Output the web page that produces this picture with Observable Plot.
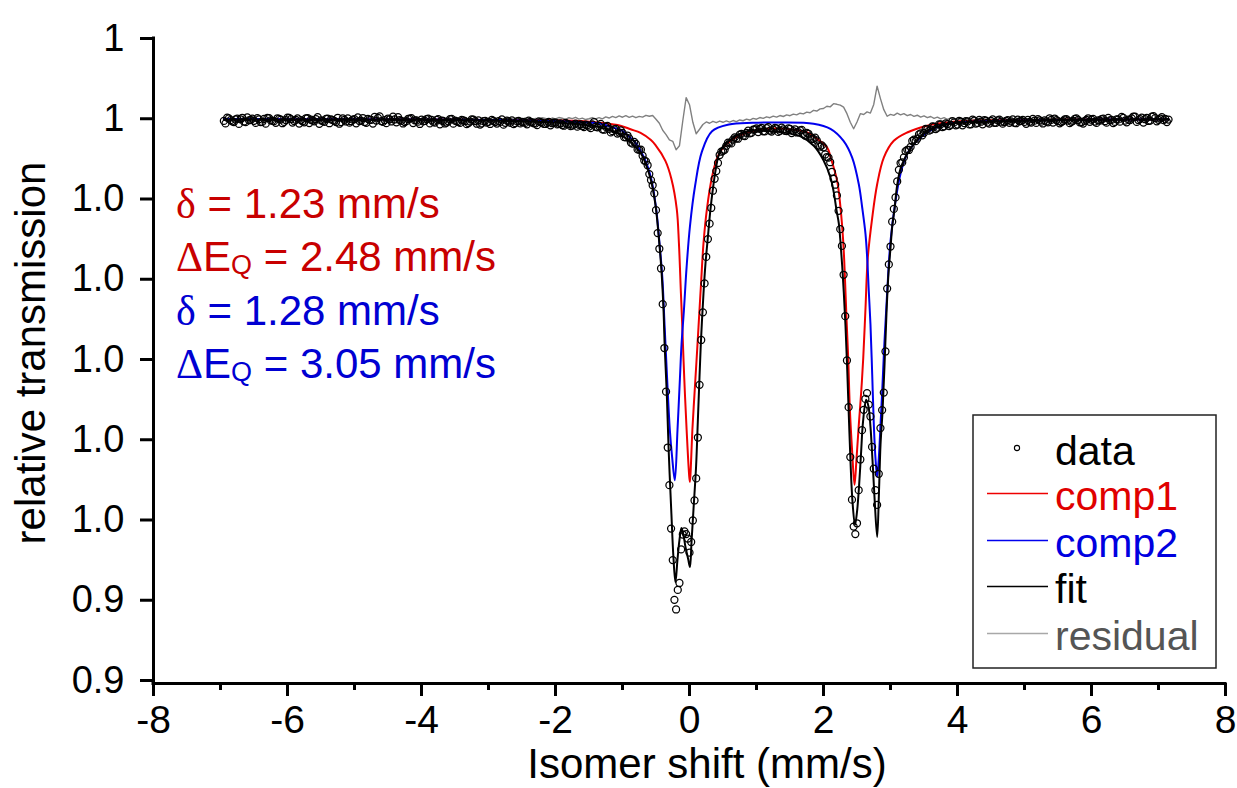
<!DOCTYPE html>
<html><head><meta charset="utf-8">
<script src="https://cdn.jsdelivr.net/npm/d3@7"></script>
<script src="https://cdn.jsdelivr.net/npm/@observablehq/plot@0.6"></script>
<style>
html,body{margin:0;padding:0;background:#fff;overflow:hidden}
#chart{width:1237px;height:788px}
</style></head><body><div id="chart"></div>
<script>
// ---- measured spectrum, even channels (velocity in mm/s, relative transmission) ----
const velocityEven = [
-6.95,-6.9,-6.85,-6.8,-6.75,-6.7,-6.65,-6.6,-6.55,-6.5,
-6.45,-6.4,-6.35,-6.3,-6.25,-6.2,-6.15,-6.1,-6.05,-6,
-5.95,-5.9,-5.85,-5.8,-5.75,-5.7,-5.65,-5.6,-5.55,-5.5,
-5.45,-5.4,-5.35,-5.3,-5.25,-5.2,-5.15,-5.1,-5.05,-5,
-4.95,-4.9,-4.85,-4.8,-4.75,-4.7,-4.65,-4.6,-4.55,-4.5,
-4.45,-4.4,-4.35,-4.3,-4.25,-4.2,-4.15,-4.1,-4.05,-4,
-3.95,-3.9,-3.85,-3.8,-3.75,-3.7,-3.65,-3.6,-3.55,-3.5,
-3.45,-3.4,-3.35,-3.3,-3.25,-3.2,-3.15,-3.1,-3.05,-3,
-2.95,-2.9,-2.85,-2.8,-2.75,-2.7,-2.65,-2.6,-2.55,-2.5,
-2.45,-2.4,-2.35,-2.3,-2.25,-2.2,-2.15,-2.1,-2.05,-2,
-1.95,-1.9,-1.85,-1.8,-1.75,-1.7,-1.65,-1.6,-1.55,
-1.5,-1.45,-1.4,-1.35,-1.3,-1.25,-1.2,-1.15,-1.1,-1.05,
-1,-0.95,-0.9,-0.85,-0.8,-0.75,-0.7,-0.65,-0.6,-0.55,
-0.5,-0.45,-0.4,-0.35,-0.3,-0.25,-0.2,-0.15,-0.1,-0.05,
0,0.05,0.1,0.15,0.2,0.25,0.3,0.35,0.4,0.45,
0.5,0.55,0.6,0.65,0.7,0.75,0.8,0.85,0.9,0.95,
1,1.05,1.1,1.15,1.2,1.25,1.3,1.35,1.4,1.45,
1.5,1.55,1.6,1.65,1.7,1.75,1.8,1.85,1.9,1.95,
2,2.05,2.1,2.15,2.2,2.25,2.3,2.35,2.4,2.45,
2.5,2.55,2.6,2.65,2.7,2.75,2.8,2.85,2.9,2.95,
3,3.05,3.1,3.15,3.2,3.25,3.3,3.35,3.4,3.45,
3.5,3.55,3.6,3.65,3.7,3.75,3.8,3.85,3.9,3.95,
4,4.05,4.1,4.15,4.2,4.25,4.3,4.35,4.4,4.45,
4.5,4.55,4.6,4.65,
4.7,4.75,4.8,4.85,4.9,4.95,5,5.05,5.1,5.15,
5.2,5.25,5.3,5.35,5.4,5.45,5.5,5.55,5.6,5.65,
5.7,5.75,5.8,5.85,5.9,5.95,6,6.05,6.1,6.15,
6.2,6.25,6.3,6.35,6.4,6.45,6.5,6.55,6.6,6.65,
6.7,6.75,6.8,6.85,6.9,6.95,7,7.05,7.1,7.15];
const transmissionEven = [
0.99973,1.00013,0.99982,0.99959,1.00002,0.99993,0.99966,1.00018,0.99985,0.99975,
1.00008,0.99957,0.99998,1.00011,0.99979,0.99970,1.00006,0.99990,0.99961,1.00015,
0.99996,0.99972,1.00004,0.99983,0.99955,1.00009,0.99988,0.99968,1.00020,0.99979,
0.99962,1.00001,0.99992,0.99974,1.00012,0.99958,0.99986,1.00005,0.99969,0.99994,
1.00016,0.99977,0.99960,0.99999,0.99987,1.00024,1.00010,0.99971,0.99982,1.00003,
0.99966,0.99991,1.00021,0.99975,0.99958,0.99997,1.00007,0.99980,0.99964,0.99989,
0.99972,1.00002,0.99985,0.99953,0.99994,0.99978,0.99941,0.99968,0.99999,0.99976,
0.99960,0.99987,0.99971,0.99947,0.99993,0.99969,0.99980,0.99942,0.99974,0.99962,
0.99985,0.99958,0.99970,0.99991,0.99950,0.99966,0.99979,0.99945,0.99972,0.99960,
0.99948,0.99977,0.99955,0.99940,0.99968,0.99951,0.99935,0.99962,0.99944,0.99953,
0.99936,0.99921,0.99948,0.99930,0.99915,0.99939,0.99925,0.99910,0.99928,
0.99902,0.99930,0.99900,0.99910,0.99869,0.99898,0.99874,0.99845,0.99874,0.99828,
0.99823,0.99769,0.99756,0.99689,0.99686,0.99613,0.99539,0.99468,0.99311,0.99171,
0.98861,0.98380,0.97689,0.96599,0.95434,0.94500,0.93885,0.94215,0.94819,0.94825,
0.94593,0.94994,0.95518,0.96684,0.97588,0.98278,0.98693,0.99103,0.99348,0.99548,
0.99600,0.99663,0.99700,0.99739,0.99755,0.99803,0.99789,0.99824,0.99818,0.99865,
0.99879,0.99873,0.99844,0.99883,0.99853,0.99866,0.99881,0.99849,0.99869,0.99846,
0.99874,0.99845,0.99829,0.99856,0.99813,0.99824,0.99778,0.99750,0.99730,0.99653,
0.99644,0.99523,0.99458,0.99251,0.99045,0.98624,0.98056,0.96988,0.95784,0.94918,
0.94959,0.95754,0.96373,0.96581,0.96290,0.95639,0.95188,0.96145,0.96588,0.97884,
0.98408,0.98876,0.99219,0.99448,0.99518,0.99613,0.99649,0.99739,0.99751,0.99818,
0.99824,0.99871,0.99863,0.99902,0.99888,0.99929,0.99906,0.99934,0.99924,0.99954,
0.99928,0.99963,0.99945,0.99966,0.99930,0.99976,0.99948,0.99963,0.99983,0.99953,
0.99973,0.99949,0.99981,0.99963,
0.99958,0.99983,0.99967,0.99949,0.99990,0.99972,0.99961,0.99985,0.99953,0.99976,
0.99996,0.99964,0.99979,0.99955,0.99987,1.00003,0.99970,0.99959,0.99991,0.99977,
0.99962,0.99999,0.99984,0.99956,0.99973,1.00006,0.99988,0.99965,0.99980,0.99994,
0.99969,1.00010,0.99985,0.99961,0.99992,1.00022,0.99976,0.99989,1.00004,1.00025,
0.99983,1.00015,0.99994,0.99972,1.00027,1.00008,0.99986,1.00019,0.99998,0.99990];

// ---- measured spectrum, odd channels ----
const velocityOdd = [
-6.925,-6.875,-6.825,-6.775,-6.725,-6.675,-6.625,-6.575,-6.525,-6.475,
-6.425,-6.375,-6.325,-6.275,-6.225,-6.175,-6.125,-6.075,-6.025,-5.975,
-5.925,-5.875,-5.825,-5.775,-5.725,-5.675,-5.625,-5.575,-5.525,-5.475,
-5.425,-5.375,-5.325,-5.275,-5.225,-5.175,-5.125,-5.075,-5.025,-4.975,
-4.925,-4.875,-4.825,-4.775,-4.725,-4.675,-4.625,-4.575,-4.525,-4.475,
-4.425,-4.375,-4.325,-4.275,-4.225,-4.175,-4.125,-4.075,-4.025,-3.975,
-3.925,-3.875,-3.825,-3.775,-3.725,-3.675,-3.625,-3.575,-3.525,-3.475,
-3.425,-3.375,-3.325,-3.275,-3.225,-3.175,-3.125,-3.075,-3.025,-2.975,
-2.925,-2.875,-2.825,-2.775,-2.725,-2.675,-2.625,-2.575,-2.525,-2.475,
-2.425,-2.375,-2.325,-2.275,-2.225,-2.175,-2.125,-2.075,-2.025,-1.975,
-1.925,-1.875,-1.825,-1.775,-1.725,-1.675,-1.625,-1.575,-1.525,
-1.475,-1.425,-1.375,-1.325,-1.275,-1.225,-1.175,-1.125,-1.075,-1.025,
-0.975,-0.925,-0.875,-0.825,-0.775,-0.725,-0.675,-0.625,-0.575,-0.525,
-0.475,-0.425,-0.375,-0.325,-0.275,-0.225,-0.175,-0.125,-0.075,-0.025,
0.025,0.075,0.125,0.175,0.225,0.275,0.325,0.375,0.425,0.475,
0.525,0.575,0.625,0.675,0.725,0.775,0.825,0.875,0.925,0.975,
1.025,1.075,1.125,1.175,1.225,1.275,1.325,1.375,1.425,1.475,
1.525,1.575,1.625,1.675,1.725,1.775,1.825,1.875,1.925,1.975,
2.025,2.075,2.125,2.175,2.225,2.275,2.325,2.375,2.425,2.475,
2.525,2.575,2.625,2.675,2.725,2.775,2.825,2.875,2.925,2.975,
3.025,3.075,3.125,3.175,3.225,3.275,3.325,3.375,3.425,3.475,
3.525,3.575,3.625,3.675,3.725,3.775,3.825,3.875,3.925,3.975,
4.025,4.075,4.125,4.175,4.225,4.275,4.325,4.375,4.425,4.475,
4.525,4.575,4.625,
4.675,4.725,4.775,4.825,4.875,4.925,4.975,5.025,5.075,5.125,
5.175,5.225,5.275,5.325,5.375,5.425,5.475,5.525,5.575,5.625,
5.675,5.725,5.775,5.825,5.875,5.925,5.975,6.025,6.075,6.125,
6.175,6.225,6.275,6.325,6.375,6.425,6.475,6.525,6.575,6.625,
6.675,6.725,6.775,6.825,6.875,6.925,6.975,7.025,7.075,7.125];
const transmissionOdd = [
0.99942,1.00005,0.99968,0.99991,0.99936,1.00012,0.99957,0.99980,1.00001,0.99948,
0.99993,0.99961,0.99939,1.00008,0.99975,0.99950,0.99997,0.99944,0.99984,1.00010,
0.99953,0.99987,0.99940,0.99969,1.00006,0.99946,0.99978,0.99995,0.99937,0.99972,
0.99999,0.99944,0.99982,0.99958,0.99938,1.00004,0.99966,0.99951,0.99990,0.99943,
0.99971,1.00009,0.99949,0.99986,0.99940,0.99977,1.00030,0.99962,0.99945,0.99993,
1.00026,0.99955,0.99984,0.99941,0.99970,1.00002,0.99947,0.99979,0.99935,0.99967,
0.99996,0.99942,0.99963,0.99985,0.99930,0.99974,0.99952,0.99994,0.99939,0.99968,
0.99948,0.99981,0.99932,0.99965,0.99988,0.99938,0.99927,0.99970,0.99953,0.99935,
0.99972,0.99940,0.99961,0.99926,0.99978,0.99949,0.99933,0.99967,0.99942,0.99958,
0.99931,0.99962,0.99944,0.99920,0.99957,0.99936,0.99948,0.99918,0.99952,0.99929,
0.99941,0.99913,0.99935,0.99908,0.99926,0.99901,0.99930,0.99897,0.99919,
0.99883,0.99959,0.99893,0.99936,0.99863,0.99910,0.99830,0.99869,0.99816,0.99856,
0.99770,0.99791,0.99703,0.99711,0.99618,0.99615,0.99480,0.99421,0.99236,0.99070,
0.98575,0.98134,0.97143,0.95903,0.94893,0.94005,0.94129,0.94633,0.94859,0.94769,
0.94726,0.95243,0.96028,0.97243,0.97948,0.98501,0.98888,0.99251,0.99449,0.99589,
0.99614,0.99701,0.99693,0.99768,0.99751,0.99811,0.99785,0.99851,0.99825,0.99869,
0.99834,0.99886,0.99844,0.99895,0.99841,0.99886,0.99836,0.99889,0.99848,0.99881,
0.99822,0.99869,0.99834,0.99861,0.99790,0.99813,0.99748,0.99765,0.99669,0.99668,
0.99555,0.99516,0.99339,0.99178,0.98853,0.98415,0.97540,0.96406,0.95253,0.94825,
0.95372,0.96119,0.96509,0.96438,0.95911,0.95371,0.95575,0.96370,0.97100,0.98185,
0.98718,0.99020,0.99363,0.99456,0.99596,0.99611,0.99723,0.99721,0.99806,0.99793,
0.99873,0.99851,0.99905,0.99871,0.99930,0.99895,0.99943,0.99909,0.99970,0.99919,
0.99974,0.99919,0.99971,0.99929,0.99988,0.99940,0.99986,0.99931,0.99976,0.99940,
0.99991,0.99949,0.99988,
0.99939,0.99975,0.99950,0.99992,0.99944,0.99968,0.99986,0.99937,0.99962,0.99998,
0.99948,0.99979,0.99941,0.99966,1.00006,0.99952,0.99983,0.99943,0.99971,0.99995,
0.99945,0.99974,1.00004,0.99956,0.99940,0.99987,0.99962,0.99999,0.99948,0.99976,
1.00002,0.99951,0.99980,0.99946,0.99993,0.99964,1.00010,0.99955,0.99984,1.00028,
0.99961,0.99996,0.99953,1.00012,0.99977,1.00032,0.99968,1.00003,0.99982,0.99959];

// ---- component 1 (red) ----
const comp1V = [-6.95,-5,-4,-3,-2,-1.63,-1.33,-1.03,-0.88,-0.73,-0.58,-0.51,-0.36,-0.27,-0.19,-0.158,-0.128,-0.107,-0.078,-0.043,-0.002,0.007,0.022,0.043,0.073,0.104,0.134,0.175,0.209,0.26,0.336,0.433,0.612,0.96,1.309,1.757,1.851,2.055,2.104,2.204,2.254,2.294,2.318,2.343,2.369,2.393,2.428,2.463,2.493,2.527,2.563,2.593,2.627,2.661,2.727,2.801,2.9,3.049,3.249,3.548,3.846,4.045,4.642,6.134,7.15];
const comp1T = [0.99996,0.99994,0.99990,0.99984,0.99980,0.99973,0.99950,0.99913,0.99869,0.99825,0.99738,0.99675,0.99475,0.99250,0.98875,0.98450,0.97825,0.97400,0.96763,0.96125,0.95525,0.95475,0.95700,0.96125,0.96550,0.96975,0.97400,0.97988,0.98450,0.98875,0.99275,0.99550,0.99725,0.99850,0.99879,0.99829,0.99781,0.99641,0.99525,0.99225,0.98891,0.98475,0.98063,0.97516,0.97016,0.96391,0.95850,0.95438,0.95766,0.96188,0.96600,0.97016,0.97641,0.98266,0.98766,0.99184,0.99516,0.99725,0.99829,0.99913,0.99954,0.99969,0.99981,0.99990,0.99994];

// ---- component 2 (blue) ----
const comp2V = [-6.95,-5,-4,-3,-2,-1.627,-1.328,-1.134,-1.03,-0.881,-0.821,-0.672,-0.572,-0.497,-0.448,-0.406,-0.37,-0.334,-0.294,-0.26,-0.219,-0.179,-0.143,-0.119,-0.084,-0.043,0.007,0.084,0.185,0.336,0.588,0.94,1.36,1.851,2.104,2.299,2.428,2.527,2.578,2.627,2.652,2.676,2.701,2.727,2.751,2.776,2.801,2.825,2.851,2.876,2.91,2.951,3,3.075,3.149,3.249,3.448,3.746,4.045,4.642,6.134,7.15];
const comp2T = [0.99996,0.99994,0.99990,0.99985,0.99973,0.99956,0.99938,0.99888,0.99863,0.99763,0.99716,0.99505,0.99253,0.98875,0.98450,0.98028,0.97394,0.96763,0.96128,0.95789,0.95494,0.96125,0.96763,0.97188,0.97605,0.98154,0.98663,0.99168,0.99590,0.99844,0.99928,0.99950,0.99954,0.99938,0.99875,0.99725,0.99516,0.99184,0.98891,0.98563,0.98266,0.97850,0.97438,0.96813,0.96188,0.95766,0.95538,0.95766,0.96188,0.96600,0.97225,0.97850,0.98475,0.98975,0.99313,0.99563,0.99766,0.99913,0.99954,0.99975,0.99990,0.99994];

// ---- total fit (black) ----
const fitV = [-6.95,-5,-4,-3,-2.5,-2,-1.64,-1.34,-1.13,-1.03,-0.88,-0.82,-0.73,-0.67,-0.58,-0.51,-0.46,-0.42,-0.39,-0.37,-0.34,-0.31,-0.27,-0.24,-0.21,-0.18,-0.15,-0.12,-0.09,-0.06,-0.02,0.007,0.03,0.06,0.098,0.124,0.149,0.175,0.209,0.239,0.269,0.31,0.351,0.388,0.433,0.507,0.612,0.716,0.955,1.06,1.313,1.458,1.657,1.855,2,2.104,2.154,2.194,2.228,2.254,2.279,2.303,2.328,2.354,2.378,2.403,2.433,2.47,2.5,2.53,2.56,2.59,2.637,2.672,2.701,2.731,2.761,2.801,2.828,2.851,2.881,2.91,2.94,2.97,3,3.025,3.06,3.1,3.149,3.224,3.348,3.548,3.846,4.045,4.642,5.388,6.134,7.15];
const fitT = [0.99988,0.99988,0.99986,0.99978,0.99969,0.99953,0.99931,0.99894,0.99838,0.99800,0.99713,0.99663,0.99575,0.99475,0.99250,0.98938,0.98538,0.98125,0.97663,0.97163,0.96600,0.95850,0.95075,0.94538,0.94225,0.94500,0.94750,0.94900,0.94813,0.94663,0.94513,0.94413,0.94725,0.95138,0.95663,0.96225,0.96775,0.97300,0.97825,0.98200,0.98475,0.98850,0.99138,0.99350,0.99538,0.99663,0.99738,0.99800,0.99856,0.99851,0.99839,0.99821,0.99781,0.99663,0.99483,0.99268,0.99079,0.98861,0.98698,0.98458,0.98168,0.97834,0.97423,0.96875,0.96295,0.95725,0.95225,0.94938,0.95100,0.95413,0.95825,0.96225,0.96500,0.96413,0.96163,0.95750,0.95288,0.94788,0.95350,0.95938,0.96350,0.96913,0.97575,0.98075,0.98388,0.98650,0.98875,0.99175,0.99375,0.99525,0.99688,0.99850,0.99931,0.99950,0.99969,0.99981,0.99988,0.99990];

// ---- residual (grey) ----
const residualV = [
-6.95,-6.7,-6.45,-6.2,-5.95,-5.7,-5.45,-5.2,-4.95,-4.7,-4.45,-4.2,-3.95,-3.7,-3.45,-3.2,-2.95,-2.7,
-2.5,-2.45,-2.4,-2.35,-2.3,-2.25,-2.2,-2.15,-2.1,-2.05,
-2,-1.95,-1.9,-1.85,-1.8,-1.75,-1.7,-1.65,-1.6,-1.55,
-1.5,-1.45,-1.4,-1.35,-1.3,-1.25,-1.2,-1.15,-1.1,-1.05,
-1,-0.95,-0.9,-0.85,-0.8,-0.75,-0.7,-0.65,-0.6,-0.55,
-0.5,-0.45,-0.4,-0.35,-0.3,-0.25,-0.2,-0.15,-0.1,-0.05,
0,0.05,0.1,0.15,0.2,0.25,0.3,0.35,0.4,0.45,
0.5,0.55,0.6,0.65,0.7,0.75,0.8,0.85,0.9,0.95,
1,1.05,1.1,1.15,1.2,1.25,1.3,1.35,1.4,1.45,
1.5,1.55,1.6,1.65,1.7,1.75,1.8,1.85,1.9,1.95,
2,2.05,2.1,2.15,2.2,2.25,2.3,2.35,2.4,2.45,
2.5,2.55,2.6,2.65,2.7,2.75,2.8,2.85,2.9,2.95,
3,3.05,3.1,3.15,3.2,3.25,3.3,3.35,3.4,3.45,
3.5,3.55,3.6,3.65,3.7,3.75,3.8,3.85,3.9,3.95,
4,4.05,4.1,4.15,4.2,4.25,4.3,4.35,4.4,4.45,
4.5,
4.75,5,5.25,5.5,5.75,6,6.25,6.5,6.75,7,7.15];
const residualT = [
0.99993,1.00001,0.99986,0.99998,1.00005,0.99990,0.99984,1.00000,1.00006,0.99989,0.99996,1.00004,0.99988,0.99999,1.00008,0.99991,0.99985,1.00001,
0.99994,1.00010,1.00000,0.99988,1.00005,0.99995,1.00014,1.00003,0.99989,1.00009,
0.99999,1.00015,1.00006,0.99993,1.00013,1.00001,1.00018,0.99996,1.00008,0.99990,
1.00000,1.00015,0.99998,1.00013,0.99999,1.00023,1.00009,1.00030,1.00015,1.00035,
1.00019,1.00038,1.00018,1.00033,1.00013,1.00030,1.00020,1.00043,1.00031,1.00040,
0.99994,0.99944,0.99856,0.99803,0.99738,0.99719,0.99613,0.99663,0.99975,1.00263,
1.00175,0.99956,0.99813,0.99869,0.99928,0.99960,0.99944,0.99968,0.99951,0.99971,
0.99956,0.99973,0.99958,0.99978,0.99964,0.99985,0.99975,0.99995,0.99984,1.00005,
0.99994,1.00015,1.00005,1.00024,1.00013,1.00033,1.00020,1.00040,1.00028,1.00048,
1.00038,1.00058,1.00048,1.00069,1.00060,1.00083,1.00075,1.00105,1.00096,1.00123,
1.00128,1.00156,1.00148,1.00188,1.00180,1.00169,1.00144,1.00063,0.99956,0.99875,
0.99959,1.00063,1.00053,1.00085,1.00071,1.00178,1.00406,1.00251,1.00113,1.00031,
1.00055,1.00043,1.00070,1.00048,1.00063,1.00038,1.00053,1.00030,1.00044,1.00020,
1.00035,1.00013,1.00028,1.00005,1.00020,0.99998,1.00014,0.99993,1.00009,0.99990,
1.00006,0.99989,1.00005,0.99988,1.00003,0.99989,1.00004,0.99985,1.00000,0.99986,
0.99998,
0.99991,1.00001,0.99988,0.99996,1.00005,0.99990,0.99999,0.99985,1.00003,0.99993,0.99998];

// ---- axes ----
const xMajorTicks = [-8,-6,-4,-2,0,2,4,6,8];
const xMinorTicks = [-7,-5,-3,-1,1,3,5,7];
const yTicks = [1.01,1.00,0.99,0.98,0.97,0.96,0.95,0.94,0.93];
const yTickLabels = ["1","1","1.0","1.0","1.0","1.0","1.0","0.9","0.9"];
const xTitle = "Isomer shift (mm/s)";
const yTitle = "relative transmission";

// ---- fit parameters text ----
const paramLines = [
  {greek:"δ", sym:"",  sub:"",  value:" = 1.23 mm/s", color:"#c80000"},
  {greek:"Δ", sym:"E", sub:"Q", value:" = 2.48 mm/s", color:"#c80000"},
  {greek:"δ", sym:"",  sub:"",  value:" = 1.28 mm/s", color:"#0000d2"},
  {greek:"Δ", sym:"E", sub:"Q", value:" = 3.05 mm/s", color:"#0000d2"}
];
const legendItems = [
  {label:"data",     kind:"dot",  color:"#000000", text:"#000000"},
  {label:"comp1",    kind:"line", color:"#ee0000", text:"#e00000"},
  {label:"comp2",    kind:"line", color:"#0000ee", text:"#0000e0"},
  {label:"fit",      kind:"line", color:"#000000", text:"#000000"},
  {label:"residual", kind:"line", color:"#a8a8a8", text:"#555555"}
];

const rows = (xs, ys) => xs.map((x, i) => ({x, y: ys[i]}));
const dataRows = rows(velocityEven, transmissionEven).concat(rows(velocityOdd, transmissionOdd));
const comp1Rows = rows(comp1V, comp1T);
const comp2Rows = rows(comp2V, comp2T);
const fitRows = rows(fitV, fitT);
const residualRows = rows(residualV, residualT);

const yLow = 0.929626, yHigh = 1.01;
const FONT = "'Liberation Sans', Arial, Helvetica, sans-serif";

const chart = Plot.plot({
  width: 1237, height: 788,
  marginLeft: 153, marginRight: 12, marginTop: 38, marginBottom: 105,
  style: {fontFamily: FONT, background: "#fff", color: "#000"},
  x: {domain: [-8, 8], label: null},
  y: {domain: [yLow, yHigh], label: null},
  marks: [
    Plot.line(residualRows, {x: "x", y: "y", stroke: "#808080", strokeWidth: 1.4}),
    Plot.line(comp1Rows, {x: "x", y: "y", stroke: "#ee0000", strokeWidth: 2, curve: "catmull-rom"}),
    Plot.line(comp2Rows, {x: "x", y: "y", stroke: "#0000ee", strokeWidth: 2, curve: "catmull-rom"}),
    Plot.dot(dataRows, {x: "x", y: "y", r: 3.5, stroke: "#000", strokeWidth: 1.25, fill: "none"}),
    Plot.line(fitRows, {x: "x", y: "y", stroke: "#000", strokeWidth: 2, curve: "catmull-rom"}),
    Plot.ruleX([-8], {y1: yLow, y2: yHigh, stroke: "#000", strokeWidth: 3, strokeLinecap: "square"}),
    Plot.ruleY([yLow], {x1: -8, x2: 8, stroke: "#000", strokeWidth: 3, strokeLinecap: "square"}),
    Plot.axisX(xMajorTicks, {tickSize: 13, tickPadding: 9, fontSize: 39, strokeWidth: 3, tickFormat: d => String(d), label: null}),
    Plot.axisX(xMinorTicks, {tickSize: 7, strokeWidth: 3, tickFormat: () => "", label: null}),
    Plot.axisY(yTicks, {tickSize: 13, tickPadding: 16, fontSize: 38, strokeWidth: 3, label: null,
      tickFormat: d => yTickLabels[yTicks.findIndex(t => Math.abs(t - d) < 1e-6)]})
  ]
});
document.getElementById("chart").appendChild(chart);

const svg = d3.select(chart);
// axis titles
svg.append("text").attr("x", 707).attr("y", 778).attr("text-anchor", "middle")
  .attr("font-family", FONT).attr("font-size", 42).attr("fill", "#000").text(xTitle);
svg.append("text").attr("transform", "translate(45,353) rotate(-90)").attr("text-anchor", "middle")
  .attr("font-family", FONT).attr("font-size", 42).attr("fill", "#000").text(yTitle);

// parameter annotations
const ann = svg.append("g").attr("font-family", FONT).attr("font-size", 42).attr("text-anchor", "start");
paramLines.forEach((p, i) => {
  const t = ann.append("text").attr("x", 176).attr("y", 218 + i * 53.3).attr("fill", p.color).attr("text-anchor", "start");
  t.append("tspan").attr("font-family", "'Liberation Serif', 'Times New Roman', serif").text(p.greek);
  if (p.sym) t.append("tspan").text(p.sym);
  if (p.sub) {
    t.append("tspan").attr("font-size", 27).attr("dy", 3).text(p.sub);
    t.append("tspan").attr("dy", -3).text(p.value);
  } else {
    t.append("tspan").text(p.value);
  }
});

// legend
const lg = svg.append("g").attr("font-family", FONT).attr("font-size", 41).attr("text-anchor", "start");
lg.append("rect").attr("x", 973).attr("y", 415).attr("width", 243).attr("height", 253)
  .attr("fill", "#fff").attr("stroke", "#222").attr("stroke-width", 1.5);
const baselines = [465, 510, 557, 603, 650];
legendItems.forEach((it, i) => {
  const b = baselines[i];
  if (it.kind === "dot") {
    lg.append("circle").attr("cx", 1017).attr("cy", b - 17).attr("r", 2.6)
      .attr("fill", "none").attr("stroke", it.color).attr("stroke-width", 1.1);
  } else {
    lg.append("line").attr("x1", 987).attr("x2", 1048).attr("y1", b - 16.5).attr("y2", b - 16.5)
      .attr("stroke", it.color).attr("stroke-width", 1.6);
  }
  lg.append("text").attr("x", 1055).attr("y", b).attr("fill", it.text).attr("text-anchor", "start").text(it.label);
});
</script>
</body></html>
